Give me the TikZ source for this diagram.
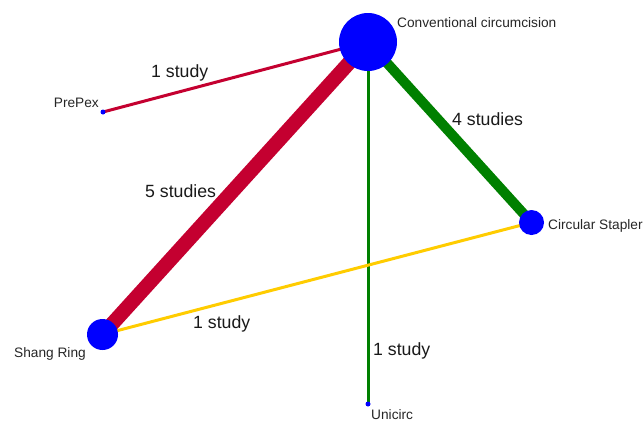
\documentclass[tikz,border=0pt]{standalone}
\usepackage{fontspec}
\setmainfont{Liberation Sans}
\usetikzlibrary{backgrounds}

\definecolor{netred}{RGB}{196,0,48}
\definecolor{netgreen}{RGB}{0,128,0}
\definecolor{netyellow}{RGB}{255,204,0}

\begin{document}
\begin{tikzpicture}[x=1pt, y=-1pt,
  treat/.style={circle, fill=blue, inner sep=0pt},
  treatname/.style={inner sep=0pt, font=\fontsize{13.7}{14}\selectfont, text=black!85},
  studies/.style={inner sep=0pt, font=\fontsize{17.7}{18}\selectfont, text=black!90},
  link/.style={line cap=butt}]

\useasboundingbox (0,0) rectangle (644,423);

% treatments
\node[treat, minimum size=58pt] (cc) at (368,42) {};
\node[treat, minimum size=5pt] (prepex) at (103,112) {};
\node[treat, minimum size=25pt] (stapler) at (531.5,222.5) {};
\node[treat, minimum size=31pt] (shang) at (102.5,334.5) {};
\node[treat, minimum size=5pt] (unicirc) at (368,404) {};

% treatment names
\node[treatname, anchor=base west] (cclbl) at (397,27) {Conventional circumcision};
\node[treatname, anchor=base east] (prepexlbl) at (99,107) {PrePex};
\node[treatname, anchor=base west] (staplerlbl) at (548,229.5) {Circular Stapler};
\node[treatname, anchor=base west] (shanglbl) at (14,357) {Shang Ring};
\node[treatname, anchor=base west] (unicirclbl) at (371,419.5) {Unicirc};

% comparisons
\begin{scope}[on background layer]
  \draw[link, netred, line width=3pt] (cc.center) -- (prepex.center);
  \draw[link, netred, line width=14.5pt] (cc.center) -- (shang.center);
  \draw[link, netgreen, line width=10pt] (cc.center) -- (stapler.center);
  \draw[link, netgreen, line width=3pt] (cc.center) -- (unicirc.center);
  \draw[link, netyellow, line width=3pt] (shang.center) -- (stapler.center);
\end{scope}

% number of studies
\node[studies, anchor=base west] (n1) at (151,77) {1 study};
\node[studies, anchor=base west] (n2) at (145,197) {5 studies};
\node[studies, anchor=base west] (n3) at (452,125) {4 studies};
\node[studies, anchor=base west] (n4) at (193,328) {1 study};
\node[studies, anchor=base west] (n5) at (373,355) {1 study};

\end{tikzpicture}
\end{document}
